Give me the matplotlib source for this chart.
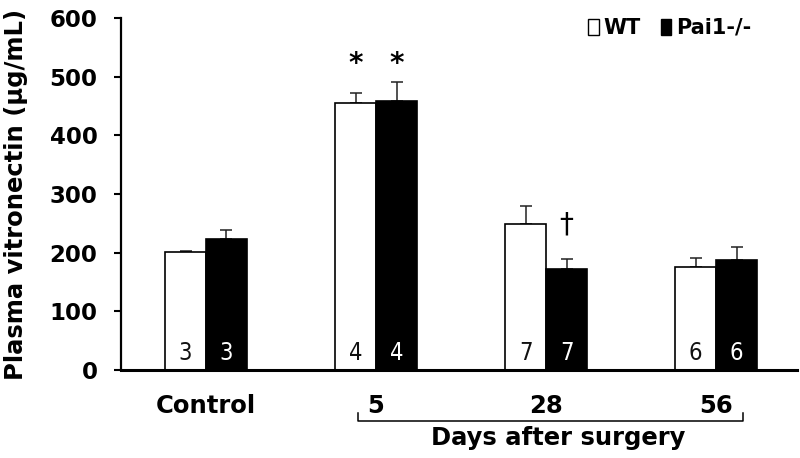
import matplotlib
matplotlib.use("Agg")
import matplotlib.pyplot as plt
import matplotlib.transforms as mtransforms
from matplotlib.patches import Patch
from matplotlib import font_manager
import numpy as np

groups = ["Control", "5", "28", "56"]
wt_vals = [201, 455, 249, 175]
wt_err = [2, 18, 31, 16]
ko_vals = [224, 458, 173, 188]
ko_err = [14, 33, 16, 21]
n_wt = [3, 4, 7, 6]
n_ko = [3, 4, 7, 6]
series_names = ["WT", "Pai1-/-"]
yticks = [0, 100, 200, 300, 400, 500, 600]
star_groups = [1]
dagger_groups = [2]

names = {f.name for f in font_manager.fontManager.ttflist}
if "Liberation Sans Narrow" in names:
    narrow_kw = dict(family=["Liberation Sans Narrow", "DejaVu Sans"])
else:
    narrow_kw = dict(family=["DejaVu Sans"], stretch="condensed")

fig = plt.figure(figsize=(8, 4.58), dpi=100)
ax = fig.add_axes([121/800, 1-370/458, 676/800, 352/458])

x = np.arange(len(groups))
w = 0.241
ax.bar(x - w/2, wt_vals, w, color="white", edgecolor="black", linewidth=1.2, zorder=2)
ax.bar(x + w/2, ko_vals, w, color="black", edgecolor="black", linewidth=1.2, zorder=2)
ax.errorbar(x - w/2, wt_vals, yerr=[np.zeros(len(x)), wt_err], fmt="none",
            ecolor="#222222", elinewidth=1.1, capsize=4.3, capthick=1.1, zorder=1)
ax.errorbar(x + w/2, ko_vals, yerr=[np.zeros(len(x)), ko_err], fmt="none",
            ecolor="#222222", elinewidth=1.1, capsize=4.3, capthick=1.1, zorder=1)

for i in range(len(groups)):
    ax.text(x[i] - w/2, 29, str(n_wt[i]), ha="center", va="center",
            fontsize=17, color="#111111", zorder=3, **narrow_kw)
    ax.text(x[i] + w/2, 29, str(n_ko[i]), ha="center", va="center",
            fontsize=17, color="white", zorder=3, **narrow_kw)

for g in star_groups:
    top = max(wt_vals[g] + wt_err[g], ko_vals[g] + ko_err[g])
    for dx in (-w/2, w/2):
        ax.text(x[g] + dx, top + 30, "*", ha="center", va="center",
                fontsize=20, fontweight="bold")
for g in dagger_groups:
    ax.text(x[g] + w/2, ko_vals[g] + ko_err[g] + 59, "\u2020", ha="center", va="center",
            fontsize=20)

ax.set_xlim(-0.5, 3.476)
ax.set_ylim(0, 600)
ax.set_yticks(yticks)
ax.set_yticklabels([str(t) for t in yticks], fontsize=16.5, fontweight="bold")
ax.set_xticks(x)
ax.set_xticklabels(groups, fontsize=17.5, fontweight="bold")
ax.tick_params(axis="x", length=0, pad=17)
ax.tick_params(axis="y", length=5, width=1.5, pad=12, direction="out")
for s in ["top", "right"]:
    ax.spines[s].set_visible(False)
ax.spines["left"].set_linewidth(1.6)
ax.spines["bottom"].set_linewidth(2.2)

ax.set_ylabel("Plasma vitronectin (\u03bcg/mL)", fontsize=17.5, fontweight="bold")
ax.yaxis.set_label_coords(-0.137, 0.5)

# bracket for "Days after surgery"
trans = mtransforms.blended_transform_factory(ax.transData, ax.transAxes)
xl, xr = x[1] - 0.106, x[3] + 0.159
yb, yt = -0.145, -0.122
ax.plot([xl, xl, xr, xr], [yt, yb, yb, yt], color="black", lw=1.1,
        transform=trans, clip_on=False)
ax.text((xl + xr) / 2 + 0.045, -0.158, "Days after surgery", transform=trans,
        ha="center", va="top", fontsize=17.5, fontweight="bold")

handles = [Patch(facecolor="white", edgecolor="black", linewidth=1.0),
           Patch(facecolor="black", edgecolor="black", linewidth=1.0)]
leg = ax.legend(handles, series_names, loc="upper left", bbox_to_anchor=(0.676, 1.03),
                ncol=2, frameon=False, handlelength=0.5, handleheight=0.8,
                handletextpad=0.2, columnspacing=1.0, borderpad=0,
                prop={"size": 15, "weight": "bold"})

fig.savefig("out.png", dpi=100)
